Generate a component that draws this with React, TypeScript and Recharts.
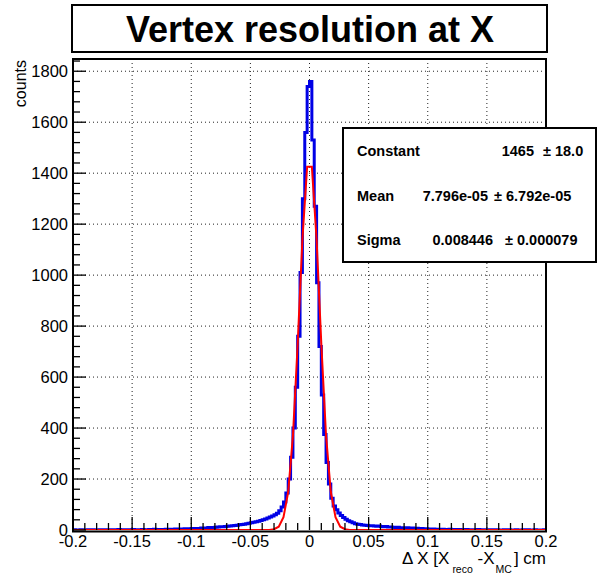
import React from 'react'
import { ComposedChart, Line, XAxis, YAxis, CartesianGrid } from 'recharts'

// histogram: 200 bins of 0.002 from -0.2 to 0.2, counts
const countsA = [
  1, 0, 0, 1, 0, 0, 1, 0, 1, 0,
  0, 1, 0, 1, 1, 0, 1, 0, 1, 2,
  0, 1, 1, 0, 1, 2, 1, 0, 1, 2,
  1, 0, 2, 1, 3, 1, 2, 1, 2, 3,
  2, 3, 2, 4, 3, 4, 3, 5, 4, 5,
]
const countsB = [
  6, 5, 6, 6, 8, 7, 8, 10, 9, 10,
  11, 12, 13, 13, 14, 15, 16, 17, 18, 19,
  21, 22, 23, 25, 26, 28, 30, 32, 34, 37,
  40, 43, 47, 51, 55, 60, 66, 76, 90, 110,
  145, 200, 285, 400, 560, 760, 1010, 1300, 1560, 1740,
]
const countsC = [
  1760, 1530, 1270, 970, 720, 530, 375, 265, 180, 125,
  94, 79, 67, 57, 49, 42, 36, 32, 28, 25,
  23, 22, 20, 19, 18, 17, 17, 16, 15, 16,
  14, 13, 14, 12, 12, 11, 10, 11, 9, 9,
  8, 9, 7, 8, 6, 7, 5, 6, 4, 5,
]
const countsD = [
  4, 3, 4, 2, 3, 2, 3, 1, 2, 3,
  1, 2, 1, 2, 0, 1, 2, 1, 1, 0,
  1, 2, 0, 1, 1, 0, 1, 0, 1, 1,
  0, 0, 1, 0, 1, 0, 0, 1, 0, 0,
  1, 0, 1, 0, 0, 1, 0, 0, 0, 1,
]

// gaus fit curve (drawn as polyline, like ROOT's npx sampling)
const fitX = [-0.2, -0.038, -0.034, -0.03, -0.026, -0.022, -0.018, -0.014, -0.01, -0.006, -0.002,
  0.002, 0.006, 0.01, 0.014, 0.018, 0.022, 0.026, 0.03, 0.034, 0.038, 0.2]
const fitY = [0, 0, 0.3, 3, 13, 50, 150, 370, 730, 1140, 1425,
  1425, 1140, 730, 370, 150, 50, 13, 3, 0.3, 0, 0]

const xMajor = [-0.2, -0.15, -0.1, -0.05, 0, 0.05, 0.1, 0.15, 0.2]
const xMajorLabels = ['-0.2', '-0.15', '-0.1', '-0.05', '0', '0.05', '0.1', '0.15', '0.2']
const yMajor = [0, 200, 400, 600, 800, 1000, 1200, 1400, 1600, 1800]
const yMajorLabels = ['0', '200', '400', '600', '800', '1000', '1200', '1400', '1600', '1800']

const statNames = ['Constant', 'Mean', 'Sigma']
const statValues = ['1465', '7.796e-05', '0.008446']
const statErrors = ['\u00b1 18.0', '\u00b1 6.792e-05', '\u00b1 0.000079']

const FONT = '"Liberation Sans", Arial, Helvetica, sans-serif'
const BIN = 0.002
const X_MIN = -0.2
const LABEL_SIZE = 16.5

const r4 = (v: number) => Math.round(v * 10000) / 10000

const counts = [...countsA, ...countsB, ...countsC, ...countsD]
const histData = counts.map((c, i) => ({ x: r4(X_MIN + i * BIN), y: c }))
histData.push({ x: 0.2, y: counts[counts.length - 1] })

const fitData = fitX.map((x, i) => ({ x, y: fitY[i] }))

const xTicks: number[] = []
for (let i = 0; i <= 40; i++) xTicks.push(r4(-0.2 + i * 0.01))
const yTicks: number[] = []
for (let i = 0; i <= 46; i++) yTicks.push(i * 40)

function XTick(props: any) {
  const { x, y, payload } = props
  const idx = xMajor.findIndex((m) => Math.abs(m - payload.value) < 1e-6)
  const major = idx >= 0
  return (
    <g>
      <line x1={x} x2={x} y1={y} y2={y - (major ? 13 : 7)} stroke="#000" strokeWidth={1.3} />
      {major && (
        <text x={x} y={y + 17} textAnchor="middle" fontSize={LABEL_SIZE} fontFamily={FONT} fill="#000">
          {xMajorLabels[idx]}
        </text>
      )}
    </g>
  )
}

function YTick(props: any) {
  const { x, y, payload } = props
  const idx = yMajor.indexOf(payload.value)
  const major = idx >= 0
  return (
    <g>
      <line x1={x} x2={x + (major ? 13 : 7)} y1={y} y2={y} stroke="#000" strokeWidth={1.3} />
      {major && (
        <text x={x - 5} y={y + 6} textAnchor="end" fontSize={LABEL_SIZE} fontFamily={FONT} fill="#000">
          {yMajorLabels[idx]}
        </text>
      )}
    </g>
  )
}

export default function App() {
  return (
    <div style={{ position: 'absolute', left: 0, top: 0, width: 597, height: 576, background: '#fff' }}>
      <ComposedChart width={597} height={576} margin={{ top: 59, right: 51, bottom: 16, left: 13 }}>
        <CartesianGrid
          stroke="#222"
          strokeDasharray="1 3"
          verticalValues={[-0.15, -0.1, -0.05, 0, 0.05, 0.1, 0.15]}
          horizontalValues={[200, 400, 600, 800, 1000, 1200, 1400, 1600, 1800]}
        />
        <XAxis
          type="number"
          dataKey="x"
          domain={[-0.2, 0.2]}
          ticks={xTicks}
          interval={0}
          tickSize={0}
          tickMargin={0}
          height={30}
          axisLine={false}
          tick={<XTick />}
          allowDataOverflow
        />
        <YAxis
          type="number"
          domain={[0, 1848]}
          ticks={yTicks}
          interval={0}
          tickSize={0}
          tickMargin={0}
          width={60}
          axisLine={false}
          tick={<YTick />}
          allowDataOverflow
        />
        <Line
          data={histData}
          dataKey="y"
          type="stepAfter"
          stroke="#0000e6"
          strokeWidth={3}
          dot={false}
          isAnimationActive={false}
        />
        <Line
          data={fitData}
          dataKey="y"
          type="linear"
          stroke="#ff0000"
          strokeWidth={2}
          dot={false}
          isAnimationActive={false}
        />
      </ComposedChart>
      <svg
        width={597}
        height={576}
        style={{ position: 'absolute', left: 0, top: 0, pointerEvents: 'none' }}
      >
        {/* frame */}
        <rect x={73} y={59} width={473} height={472.5} fill="none" stroke="#000" strokeWidth={2} />
        {/* title */}
        <rect x={72} y={5} width={475} height={47} fill="#fff" stroke="#000" strokeWidth={2} />
        <text x={310} y={42} textAnchor="middle" fontSize={36} fontWeight="bold" fontFamily={FONT}>
          Vertex resolution at X
        </text>
        {/* stats box */}
        <rect x={343} y={128} width={253} height={134} fill="#fff" stroke="#000" strokeWidth={2} />
        {statNames.map((n, i) => (
          <text key={n} x={357} y={156 + i * 44.5} fontSize={14.5} fontWeight="bold" fontFamily={FONT}>
            {n}
          </text>
        ))}
        <text x={534} y={156} textAnchor="end" fontSize={14.5} fontWeight="bold" fontFamily={FONT}>{statValues[0]}</text>
        <text x={543} y={156} fontSize={14.5} fontWeight="bold" fontFamily={FONT}>{statErrors[0]}</text>
        <text x={488} y={200.5} textAnchor="end" fontSize={14.5} fontWeight="bold" fontFamily={FONT}>{statValues[1]}</text>
        <text x={494} y={200.5} fontSize={14.5} fontWeight="bold" fontFamily={FONT}>{statErrors[1]}</text>
        <text x={493} y={245} textAnchor="end" fontSize={14.5} fontWeight="bold" fontFamily={FONT}>{statValues[2]}</text>
        <text x={505} y={245} fontSize={14.5} fontWeight="bold" fontFamily={FONT}>{statErrors[2]}</text>
        {/* axis titles */}
        <text x={546} y={564} textAnchor="end" fontSize={17} fontFamily={FONT}>
          {'\u0394 X [X'}
          <tspan fontSize={10.5} dx={3} dy={9}>reco</tspan>
          <tspan fontSize={17} dy={-9}>{' -X'}</tspan>
          <tspan fontSize={10.5} dx={1} dy={9}>MC</tspan>
          <tspan fontSize={17} dx={2} dy={-9}>{'] cm'}</tspan>
        </text>
        <text
          x={26}
          y={60}
          textAnchor="end"
          fontSize={16}
          fontFamily={FONT}
          transform="rotate(-90 26 60)"
        >
          counts
        </text>
      </svg>
    </div>
  )
}
